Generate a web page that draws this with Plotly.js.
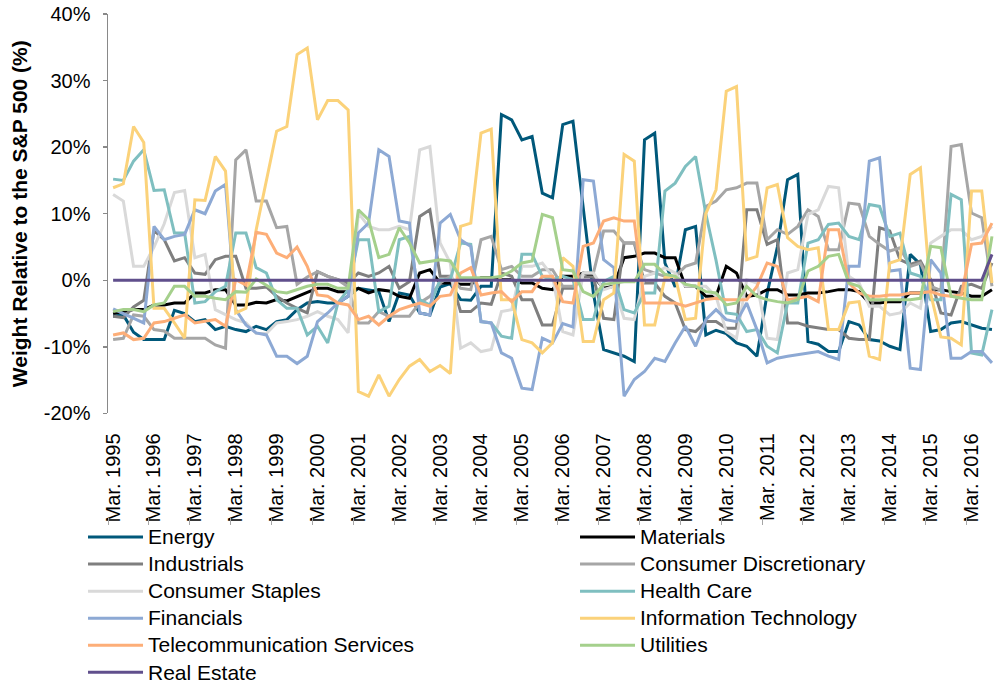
<!DOCTYPE html>
<html>
<head>
<meta charset="utf-8">
<script src="https://cdn.plot.ly/plotly-3.0.1.min.js"></script>
<style>
html,body{margin:0;padding:0;background:#ffffff;}
#chart{width:994px;height:683px;}
</style>
</head>
<body>
<div id="chart"></div>
<script>
// ---- categories / tick labels ----
const years = [1995,1996,1997,1998,1999,2000,2001,2002,2003,2004,2005,2006,2007,2008,2009,2010,2011,2012,2013,2014,2015,2016];
const quarterMonths = ["Mar.","Jun.","Sep.","Dec."];
const nQuarters = 87; // Mar. 1995 .. Sep. 2016
const yTickVals = [-20,-10,0,10,20,30,40];
const yTickText = ["-20%","-10%","0%","10%","20%","30%","40%"];

// ---- series values (% weight relative to the S&P 500) ----
const energy = [-5.4,-5.2,-7.8,-8.9,-8.9,-8.9,-4.5,-5.0,-6.2,-5.9,-7.4,-6.9,-7.4,-7.7,-6.9,
 -7.4,-6.2,-5.9,-4.4,-3.4,-3.2,-3.4,-3.4,-2.4,-1.2,-1.4,-1.7,-6.2,-1.9,-2.2,
 -4.9,-5.2,-1.0,-0.5,-2.9,-3.0,-0.9,-0.9,24.9,24.1,21.1,21.6,13.1,12.4,
 23.4,23.9,11.0,-2.0,-10.4,-10.9,-11.4,-12.2,21.1,22.1,2.6,-1.0,7.6,8.1,-8.2,
 -7.5,-8.0,-9.4,-9.9,-11.4,-2.0,5.0,15.1,15.9,-9.2,-9.6,-10.7,-10.7,-6.2,-6.7,
 -8.9,-9.1,-9.9,-10.4,3.9,2.4,-7.7,-7.4,-6.4,-6.2,-6.7,-7.2,-7.4];
const materials = [-5.0,-4.7,-4.4,-4.4,-3.7,-3.7,-3.4,-3.4,-1.9,-1.9,-1.4,-1.4,-3.7,-3.7,-3.3,
 -3.4,-2.9,-3.1,-2.4,-1.8,-1.2,-1.2,-1.7,-1.7,-1.2,-1.9,-1.4,-1.6,-2.4,-2.7,
 1.1,1.6,-0.4,-0.4,-0.6,-0.6,0.4,0.4,0.1,0.1,-0.4,-0.4,-1.2,-1.4,
 0.6,0.6,1.1,0.6,-1.2,-0.9,3.4,3.6,4.1,4.1,3.4,3.4,-0.9,-0.9,-2.4,
 -2.4,2.1,1.1,-2.4,-2.2,-1.4,-1.4,-2.2,-2.2,-1.9,-1.9,-1.7,-1.4,-1.4,-1.7,
 -3.4,-3.4,-3.2,-3.2,-1.9,-1.9,-1.4,-1.4,-1.7,-1.9,-2.4,-2.4,-1.4];
const industrials = [-5.4,-5.6,-4.0,-3.0,7.5,6.1,2.9,3.4,1.1,0.9,3.1,3.6,3.6,-1.2,-1.2,
 -1.0,-2.4,-3.4,-4.2,-4.9,1.3,0.6,0.1,-0.4,1.1,0.6,1.1,2.1,-1.2,-0.2,
 9.6,10.6,0.6,0.6,-4.7,-4.7,-3.4,-3.6,1.1,0.6,-2.9,-2.9,-6.7,-6.7,
 -1.2,-1.2,0.5,0.5,-5.7,-5.9,5.6,5.6,-0.4,-0.4,-2.4,-3.4,-7.4,-7.7,-6.2,
 -6.2,-7.2,-7.2,10.6,10.6,5.4,6.1,-6.4,-6.4,-6.9,-7.2,-7.4,-7.4,-8.7,-8.9,
 -8.9,7.9,7.4,3.1,2.4,2.9,0.1,-4.9,-5.2,-0.9,-0.6,-1.2,2.6];
const consumerDiscretionary = [-8.9,-8.7,-5.2,-5.4,-7.4,-7.6,-8.7,-8.7,-8.7,-8.7,-9.7,-10.2,18.1,19.6,11.9,
 11.9,7.9,8.1,-0.6,0.5,1.3,0.6,0.1,-1.0,-6.4,-6.4,-4.7,-5.4,-5.4,-5.4,
 -3.4,-2.4,-0.4,0.6,-1.2,-1.4,6.1,6.6,1.6,2.1,0.6,0.6,1.6,1.6,
 -0.9,-0.9,1.1,1.1,7.4,7.4,5.6,5.6,1.6,1.1,0.6,0.6,2.1,2.6,11.1,
 11.9,13.6,13.9,14.6,14.6,6.1,7.6,6.9,8.1,10.6,9.6,4.6,4.6,11.6,11.4,
 6.6,5.4,4.4,4.9,2.1,2.6,-0.9,-1.5,20.1,20.4,10.1,9.4,-0.9];
const consumerStaples = [12.9,11.9,2.1,2.1,5.0,8.5,13.2,13.5,3.4,3.9,-4.4,-5.2,-5.9,-6.4,-8.0,
 -8.0,-6.4,-6.2,-5.9,-5.4,-4.7,-5.4,-5.9,-7.9,10.1,8.1,7.6,7.6,8.1,7.6,
 19.6,20.1,5.6,2.6,-10.2,-9.4,-10.7,-10.4,-4.7,-4.4,2.1,2.1,2.6,0.6,
 -7.7,-8.2,1.1,1.1,-1.4,-0.9,-5.7,-5.9,0.6,1.1,1.9,1.1,-0.9,-0.9,-0.9,
 -2.4,-7.7,-8.7,0.1,-0.4,-8.7,-8.9,1.1,1.6,9.9,10.6,14.1,13.9,0.6,-0.4,
 -3.9,-3.9,-5.2,-4.9,-3.4,-4.2,5.6,6.6,7.6,7.6,6.1,6.6,8.1];
const healthCare = [15.2,15.0,17.9,19.6,13.5,13.6,7.1,7.1,-3.4,-3.2,-1.7,-0.9,7.1,7.1,1.9,
 1.1,-2.9,-4.2,-4.2,-8.2,-6.9,-9.4,-3.4,-1.4,6.1,6.1,-4.7,-3.9,6.1,6.6,
 -2.9,-3.7,0.1,0.1,5.6,5.4,-6.2,-6.4,-8.4,-8.7,3.9,3.9,0.6,0.1,
 0.6,0.1,-5.9,-5.9,-0.2,0.6,-4.4,-4.9,-1.9,-1.9,13.4,14.6,17.1,18.6,10.0,
 3.0,-4.9,-5.1,-7.7,-7.4,-9.9,-10.9,-3.4,-3.4,5.6,6.1,8.4,8.6,6.6,6.1,
 11.4,11.1,6.6,7.1,1.1,0.6,-2.9,-2.9,12.9,12.1,-10.9,-11.2,-4.4];
const financials = [-4.3,-5.0,-5.7,-6.4,8.1,6.1,6.6,6.9,10.6,10.0,13.4,14.4,-4.4,-6.7,-7.9,
 -8.2,-11.4,-11.4,-12.5,-11.4,-6.2,-4.9,-3.4,-2.4,7.1,8.6,19.6,18.6,8.9,8.6,
 -4.9,-5.2,8.6,9.9,6.1,5.1,-6.2,-6.4,-10.9,-11.7,-16.2,-16.4,-8.7,-9.4,
 -6.5,-7.0,15.1,14.9,3.1,1.9,-17.4,-14.9,-13.7,-11.7,-12.2,-9.4,-6.9,-9.9,-5.9,
 -4.4,-5.9,-6.2,-3.4,-7.4,-12.4,-11.7,-11.4,-11.2,-10.9,-10.7,-11.4,-11.9,2.1,2.1,
 17.9,18.4,1.4,1.6,-13.2,-13.4,3.1,1.1,-11.7,-11.7,-10.7,-10.7,-12.4];
const informationTechnology = [13.9,14.5,23.1,20.7,-4.2,-4.2,-6.4,-8.7,12.1,12.0,18.6,16.4,-4.9,-4.2,7.6,
 15.0,22.4,23.1,33.9,34.9,24.1,27.0,27.0,25.6,-16.7,-17.4,-14.2,-17.4,-14.9,-12.9,
 -11.9,-13.7,-12.8,-14.0,8.1,8.6,22.1,22.7,-2.9,-2.9,-8.9,-9.4,-10.9,-9.4,
 3.4,2.1,-9.2,-9.2,-2.9,-1.9,18.9,17.9,-6.7,-6.7,0.4,0.6,-5.9,-5.7,10.0,
 13.6,28.4,29.1,3.1,3.6,13.9,14.4,6.4,5.1,4.6,4.9,-7.4,-7.4,-3.4,-3.2,
 -11.4,-11.9,2.6,3.1,15.9,16.9,-2.0,-8.5,-8.7,-9.7,13.4,13.4,-0.4];
const telecommunicationServices = [-8.2,-7.9,-8.9,-8.7,-6.4,-6.2,-5.7,-5.2,-6.4,-6.2,-5.9,-6.9,0.1,-0.7,7.2,
 6.9,4.1,3.4,5.0,2.1,-2.2,-2.4,-3.4,-3.7,-5.9,-5.4,-6.7,-5.4,-4.4,-3.9,
 -3.4,-3.9,-2.4,-2.2,1.1,1.9,-2.2,-1.9,-1.7,-3.2,-1.7,-1.7,0.6,0.6,
 -3.2,-3.4,5.1,5.6,8.9,9.4,8.9,8.9,-3.4,-3.4,-3.4,-3.4,-3.9,-3.4,-2.9,
 -2.7,-2.9,-2.9,-2.9,-0.9,2.6,2.1,-2.9,-2.7,-2.4,-3.2,7.6,7.6,-0.4,-1.9,
 -2.4,-2.4,-2.2,-2.2,-1.9,-1.9,-1.7,-2.2,-2.4,-2.2,5.4,5.6,8.6];
const utilities = [-4.7,-4.4,-4.4,-4.7,-3.7,-3.4,-0.9,-0.9,-2.4,-2.4,-2.7,-2.9,-1.7,-1.8,0.2,
 -0.7,-1.7,-1.9,-1.4,-0.9,-0.6,-0.6,-1.2,-1.2,10.6,9.1,3.4,3.9,7.9,5.6,
 2.6,2.9,3.1,2.9,0.4,0.4,0.4,0.4,0.6,1.4,2.6,2.9,9.9,9.4,
 1.6,1.4,-1.7,-2.4,-0.6,-0.4,-0.2,-0.2,2.4,2.4,0.9,0.6,-0.6,-0.9,-1.7,
 -1.9,-3.7,-3.4,-0.9,-2.4,-2.9,-3.2,-3.4,-2.9,1.4,2.1,3.6,3.9,-0.4,-0.9,
 -2.9,-2.9,-2.9,-2.9,-2.9,-2.7,5.1,4.9,-2.4,-2.7,-2.9,-2.9,6.6];
const realEstate = [0,0,0,0,0,0,0,0,0,0,0,0,0,0,0,
 0,0,0,0,0,0,0,0,0,0,0,0,0,0,0,
 0,0,0,0,0,0,0,0,0,0,0,0,0,0,
 0,0,0,0,0,0,0,0,0,0,0,0,0,0,0,
 0,0,0,0,0,0,0,0,0,0,0,0,0,0,0,
 0,0,0,0,0,0,0,0,0,0,0,0,3.9];

const seriesNames = ["Energy","Materials","Industrials","Consumer Discretionary","Consumer Staples",
 "Health Care","Financials","Information Technology","Telecommunication Services","Utilities","Real Estate"];
const seriesValues = [energy,materials,industrials,consumerDiscretionary,consumerStaples,
 healthCare,financials,informationTechnology,telecommunicationServices,utilities,realEstate];
const seriesColors = ["#00587a","#000000","#7f7f7f","#a6a6a6","#d9d9d9",
 "#7fbfc0","#8da9d4","#fbd27a","#fdae78","#a5d08c","#604f8c"];

// quarter category labels
const quarters = [];
years.forEach(y => quarterMonths.forEach(m => quarters.push(m + " " + y)));
const xCats = quarters.slice(0, nQuarters);
const xTickVals = years.map(y => "Mar. " + y);
// year boundaries (between Dec. and Mar.) for the small marks under the labels
const yearBoundaryIdx = years.map((y, i) => i * 4 - 0.5);

const FONT = "Liberation Sans, Arial, Helvetica, sans-serif";

const traces = seriesNames.map((name, i) => ({
  type: "scatter",
  mode: "lines",
  name: '<span style="font-size:21px">' + name + '</span>',
  x: xCats,
  y: seriesValues[i],
  line: {color: seriesColors[i], width: 3},
  hoverinfo: "skip"
}));

const layout = {
  width: 994,
  height: 683,
  paper_bgcolor: "#ffffff",
  plot_bgcolor: "#ffffff",
  margin: {l: 108, r: 0, t: 14, b: 166, autoexpand: false},
  font: {family: FONT, color: "#000000", size: 20},
  showlegend: true,
  xaxis: {
    type: "category",
    categoryorder: "array",
    categoryarray: xCats,
    range: [-0.5, 86.2],
    tickmode: "array",
    tickvals: xTickVals,
    ticktext: xTickVals,
    tickangle: -90,
    ticks: "",
    showline: false,
    showgrid: false,
    zeroline: false,
    ticklabelstandoff: 15,
    tickfont: {family: FONT, size: 20, color: "#000000"}
  },
  xaxis2: {
    type: "linear",
    overlaying: "x",
    anchor: "free",
    position: 0,
    side: "bottom",
    range: [-0.5, 86.2],
    tickmode: "array",
    tickvals: yearBoundaryIdx,
    ticktext: yearBoundaryIdx.map(() => ""),
    ticks: "outside",
    ticklen: 7,
    tickwidth: 1,
    tickcolor: "#a6a6a6",
    showticklabels: true,
    showline: false,
    showgrid: false,
    zeroline: false
  },
  yaxis: {
    domain: [0.2058, 1],
    range: [-20, 40],
    tickmode: "array",
    tickvals: yTickVals,
    ticktext: yTickText,
    ticks: "outside",
    ticklen: 4,
    tickwidth: 1.5,
    tickcolor: "#898989",
    showline: true,
    linecolor: "#898989",
    linewidth: 1.5,
    showgrid: false,
    zeroline: false,
    ticklabelstandoff: 8,
    tickfont: {family: FONT, size: 20, color: "#000000"},
    title: {
      text: "Weight Relative to the S&P 500 (%)",
      font: {family: FONT, size: 21, color: "#000000", weight: "bold"},
      standoff: 10
    }
  },
  legend: {
    orientation: "h",
    x: -0.0282,
    xanchor: "left",
    y: -0.003,
    yanchor: "top",
    entrywidth: 422,
    entrywidthmode: "pixels",
    itemwidth: 55,
    font: {family: FONT, size: 18.5, color: "#000000"},
    bgcolor: "rgba(0,0,0,0)",
    traceorder: "normal"
  }
};

// helper trace (zero-width line: draws no visible mark) so the second x axis with the year marks is drawn
traces.push({type: "scatter", mode: "lines", line: {width: 0, color: "rgba(0,0,0,0)"}, x: [0, 86], y: [0, 0], xaxis: "x2", yaxis: "y", showlegend: false, hoverinfo: "skip"});

Plotly.newPlot("chart", traces, layout, {displayModeBar: false, staticPlot: true});
</script>
</body>
</html>
